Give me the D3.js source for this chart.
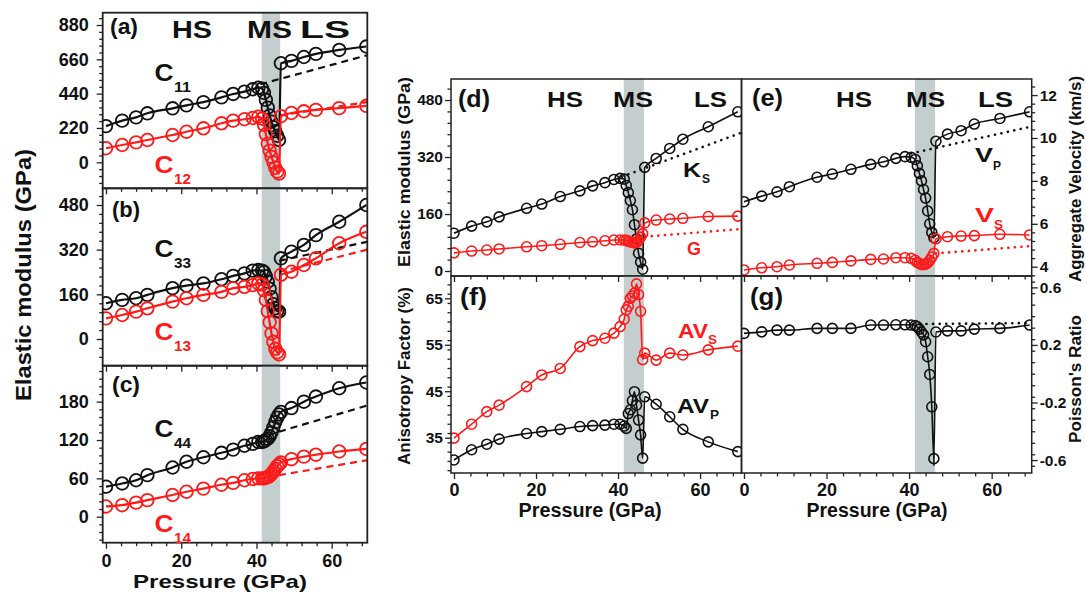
<!DOCTYPE html>
<html><head><meta charset="utf-8">
<script src="https://cdn.jsdelivr.net/npm/d3@7"></script>
<style>
body{margin:0;background:#fff}
svg{display:block}
text{font-family:"Liberation Sans",Arial,Helvetica,sans-serif;font-weight:bold}
</style>
</head><body>
<svg id="chart" width="1086" height="594"></svg>
<script>
// ---------------- DATA ----------------
// Pressure grid (GPa): HS (12) + MS transition (11) + LS (5)
const pressure = [0, 4.3, 8, 11, 17.7, 21.4, 25.9, 30.7, 33.8, 36.8, 39, 40.5,
  41.5, 42, 42.5, 43, 43.5, 44, 44.5, 45, 45.5, 46, 46.5,
  49.3, 52.6, 55.8, 62, 69.2];

// (a)
const c11 = [232, 267, 288, 314, 346, 365, 386, 416, 438, 453, 468, 478,
  472, 445, 400, 350, 300, 260, 225, 200, 170, 143, 635,
  650, 675, 695, 720, 742];
const c12 = [90, 111, 128, 143, 175, 196, 218, 250, 267, 276, 284, 292,
  280, 240, 180, 120, 75, 35, 0, -35, -60, -72, 295,
  316, 327, 336, 347, 362];
// (b)
const c33 = [128, 140, 146, 158, 182, 191, 199, 214, 226, 235, 245, 247,
  245, 240, 225, 205, 180, 150, 125, 110, 100, 98, 289,
  313, 337, 372, 420, 480];
const c13 = [74, 86, 98, 110, 134, 146, 158, 169, 182, 187, 193, 199,
  195, 175, 140, 100, 60, 20, -10, -35, -48, -55, 230,
  241, 265, 289, 343, 384];
// (c)
const c44 = [47, 52, 57, 65, 77, 86, 93, 100, 105, 111, 114, 117,
  117, 118, 120, 122, 126, 132, 140, 148, 155, 160, 164,
  170, 180, 188, 201, 210];
const c14 = [16, 18, 22, 26, 34, 39, 44, 50, 53, 57, 59, 60,
  60, 60, 61, 62, 64, 67, 71, 75, 79, 82, 85,
  90, 94, 97, 102, 106];
// (d)
const bulkKs = [106, 126, 138, 152, 176, 188, 209, 225, 239, 248, 257, 260,
  258, 240, 220, 198, 172, 130, 90, 50, 25, 5, 291,
  316, 344, 370, 405, 447];
const shearG = [51, 56, 59, 62, 68, 71, 75, 80, 82, 85, 87, 87,
  87, 86, 84, 82, 80, 79, 80, 85, 95, 105, 135,
  143, 146, 148, 153, 154];
// (e)
const velP = [7.03, 7.29, 7.49, 7.73, 8.17, 8.32, 8.54, 8.77, 8.89, 9.05, 9.13, 9.1,
  9.0, 8.7, 8.35, 8.0, 7.6, 7.2, 6.6, 6.0, 5.6, 5.35, 9.85,
  10.18, 10.34, 10.65, 10.91, 11.22];
const velS = [3.85, 3.95, 4.0, 4.08, 4.16, 4.2, 4.27, 4.34, 4.36, 4.42, 4.42, 4.39,
  4.3, 4.2, 4.15, 4.1, 4.1, 4.12, 4.18, 4.3, 4.45, 4.62, 5.3,
  5.4, 5.43, 5.45, 5.51, 5.48];
// (f)
const anisoS = [34.9, 37.9, 40.6, 42.0, 46.0, 48.5, 49.9, 54.6, 55.9, 56.4, 57.5, 58.9,
  60.5, 62.5, 63.3, 65, 65.5, 66.1, 68.1, 65.8, 62.2, 51.8, 53.2,
  51.7, 53.2, 52.8, 53.9, 54.7];
const anisoP = [30.2, 32.4, 33.6, 34.7, 35.9, 36.3, 36.8, 37.4, 37.6, 37.7, 37.9, 37.9,
  37.5, 37.0, 40.2, 41, 43, 44.9, 42, 38.8, 35.6, 30.6, 43.8,
  42.2, 39.5, 36.8, 34.1, 32.0];
// (g)
const poisson = [0.28, 0.291, 0.303, 0.303, 0.315, 0.315, 0.315, 0.338, 0.338, 0.34, 0.34, 0.338,
  0.335, 0.326, 0.31, 0.29, 0.27, 0.222, 0.118, -0.005, -0.23, -0.59, 0.29,
  0.298, 0.298, 0.31, 0.315, 0.338];
const poissonErrBar = [46, -0.59, 0.05];

// HS-trend extrapolations [pressure, value]
const c11Trend = [[41, 500], [70, 690]];
const c12Trend = [[46, 300], [70, 388]];
const c33Trend = [[46, 280], [70, 350]];
const c13Trend = [[46, 240], [70, 322]];
const c44Trend = [[46, 133], [70, 175]];
const c14Trend = [[46, 65], [70, 89]];
const ksTrend = [[41, 265], [70, 388]];
const gTrend = [[45, 95], [70, 118]];
const vpTrend = [[40.5, 9.28], [70, 10.55]];
const vsTrend = [[46.5, 4.62], [70, 4.97]];
const poissonTrend = [[41, 0.345], [70, 0.352]];

// Spin-crossover (MS) band
const msBand = [41.4, 46.3];

// Ticks
const pressureTicks = [0, 20, 40, 60];
const aTicks = [0, 220, 440, 660, 880];
const bTicks = [0, 160, 320, 480];
const cTicks = [0, 60, 120, 180];
const dTicks = [0, 160, 320, 480];
const eTicks = [4, 6, 8, 10, 12];
const fTicks = [35, 45, 55, 65];
const gTicks = [-0.6, -0.2, 0.2, 0.6];

// ---------------- DRAWING ----------------
const svg = d3.select('#chart');
const RED = '#ff1a1a', BLACK = '#111';

function minorTicks(scale, step) {
  const [a, b] = scale.domain();
  const out = [];
  for (let v = Math.ceil(a / step) * step; v <= b + 1e-9; v += step) out.push(+v.toFixed(4));
  return out;
}

function panel(cfg) {
  const x = d3.scaleLinear().domain(cfg.xd).range([cfg.x0, cfg.x1]);
  const y = d3.scaleLinear().domain(cfg.yd).range([cfg.y1, cfg.y0]);
  const cid = 'clip-' + cfg.name;
  svg.append('clipPath').attr('id', cid).append('rect')
    .attr('x', cfg.x0).attr('y', cfg.y0).attr('width', cfg.x1 - cfg.x0).attr('height', cfg.y1 - cfg.y0);
  const g = svg.append('g').attr('clip-path', `url(#${cid})`);
  g.append('rect').attr('x', x(msBand[0])).attr('y', cfg.y0)
    .attr('width', x(msBand[1]) - x(msBand[0])).attr('height', cfg.y1 - cfg.y0)
    .attr('fill', '#c5cece');
  const line = d3.line().x(d => x(d[0])).y(d => y(d[1]));
  cfg.series.forEach(s => {
    if (s.trend) {
      g.append('path').datum(s.trend).attr('d', line).attr('fill', 'none')
        .attr('stroke', s.color).attr('stroke-width', cfg.dashed ? 2.2 : 2.6)
        .attr('stroke-linecap', cfg.dashed ? 'butt' : 'round')
        .attr('stroke-dasharray', cfg.dashed ? '7,5' : '0.1,6.5');
    }
  });
  cfg.series.forEach(s => {
    const pts = pressure.map((p, i) => [p, s.values[i]]);
    g.append('path').datum(pts).attr('d', line.curve(d3.curveMonotoneX)).attr('fill', 'none')
      .attr('stroke', s.color).attr('stroke-width', cfg.lw);
    line.curve(d3.curveLinear);
    g.selectAll(null).data(pts).enter().append('circle')
      .attr('cx', d => x(d[0])).attr('cy', d => y(d[1])).attr('r', cfg.r)
      .attr('fill', 'none').attr('stroke', s.color).attr('stroke-width', cfg.cw);
  });
  if (cfg.extra) cfg.extra(g, x, y);
  // frame
  svg.append('rect').attr('x', cfg.x0).attr('y', cfg.y0).attr('width', cfg.x1 - cfg.x0)
    .attr('height', cfg.y1 - cfg.y0).attr('fill', 'none').attr('stroke', '#222').attr('stroke-width', cfg.fw);
  // axes
  const styleAxis = (sel, fs) => {
    sel.select('.domain').remove();
    sel.selectAll('line').attr('stroke', '#222').attr('stroke-width', 1.3);
    sel.selectAll('text').attr('font-size', fs).attr('fill', '#111')
      .style('font-family', '"Liberation Sans",Arial,sans-serif').style('font-weight', 'bold');
  };
  const yAxisFn = cfg.yRight ? d3.axisRight : d3.axisLeft;
  const yPos = cfg.yRight ? cfg.x1 : cfg.x0;
  svg.append('g').attr('transform', `translate(${yPos},0)`)
    .call(yAxisFn(y).tickValues(minorTicks(y, cfg.yMinor).filter(v => !cfg.yTicks.includes(v))).tickSize(3.5).tickFormat(''))
    .call(s => styleAxis(s, cfg.yfs));
  svg.append('g').attr('transform', `translate(${yPos},0)`)
    .call(yAxisFn(y).tickValues(cfg.yTicks).tickSize(6).tickPadding(cfg.yPad).tickFormat(cfg.yFmt || (d => String(d))))
    .call(s => styleAxis(s, cfg.yfs));
  svg.append('g').attr('transform', `translate(0,${cfg.y1})`)
    .call(d3.axisBottom(x).tickValues(minorTicks(x, 4).filter(v => !pressureTicks.includes(v))).tickSize(3.5).tickFormat(''))
    .call(s => styleAxis(s, cfg.xfs));
  svg.append('g').attr('transform', `translate(0,${cfg.y1})`)
    .call(d3.axisBottom(x).tickValues(pressureTicks).tickSize(6).tickPadding(cfg.xPad)
      .tickFormat(cfg.xLabels ? (d => String(d)) : ''))
    .call(s => styleAxis(s, cfg.xfs));
  return {x, y};
}

const L = {x0: 102.7, x1: 367.3, xd: [-0.877, 69.46], lw: 2.2, cw: 1.8, r: 6.3, fw: 1.8, dashed: true,
  yfs: 18, xfs: 18, yPad: 8, xPad: 6};
const R1 = {x0: 451, x1: 741.5, xd: [-0.73, 70.1], lw: 1.6, cw: 1.6, r: 5, fw: 1.5, dashed: false,
  yfs: 15.5, xfs: 18, yPad: 2, xPad: 4};
const R2 = {x0: 741.5, x1: 1031.7, xd: [-0.6, 69.7], lw: 1.6, cw: 1.6, r: 5, fw: 1.5, dashed: false,
  yfs: 15.5, xfs: 18, yPad: 2, xPad: 4, yRight: true};

panel({...L, name: 'a', y0: 12.7, y1: 188.3, yd: [-166.6, 958.8], yTicks: aTicks, yMinor: 44,
  series: [{values: c11, color: BLACK, trend: c11Trend}, {values: c12, color: RED, trend: c12Trend}]});
panel({...L, name: 'b', y0: 188.3, y1: 365.7, yd: [-95.6, 539.8], yTicks: bTicks, yMinor: 32,
  series: [{values: c33, color: BLACK, trend: c33Trend}, {values: c13, color: RED, trend: c13Trend}]});
panel({...L, name: 'c', y0: 365.7, y1: 542.7, yd: [-40.7, 236.3], yTicks: cTicks, yMinor: 12, xLabels: true,
  series: [{values: c44, color: BLACK, trend: c44Trend}, {values: c14, color: RED, trend: c14Trend}]});
panel({...R1, name: 'd', y0: 79, y1: 276, yd: [-14, 539], yTicks: dTicks, yMinor: 32,
  series: [{values: bulkKs, color: BLACK, trend: ksTrend}, {values: shearG, color: RED, trend: gTrend}]});
panel({...R1, name: 'f', y0: 276, y1: 473, yd: [27.4, 69.8], yTicks: fTicks, yMinor: 2, xLabels: true,
  series: [{values: anisoS, color: RED}, {values: anisoP, color: BLACK}]});
panel({...R2, name: 'e', y0: 79, y1: 276, yd: [3.567, 12.75], yTicks: eTicks, yMinor: 0.4,
  series: [{values: velP, color: BLACK, trend: vpTrend}, {values: velS, color: RED, trend: vsTrend}]});
panel({...R2, name: 'g', y0: 276, y1: 473, yd: [-0.69, 0.679], yTicks: gTicks, yMinor: 0.08, xLabels: true,
  yFmt: d => d.toFixed(1),
  series: [{values: poisson, color: BLACK, trend: poissonTrend}],
  extra: (g, x, y) => {
    g.append('line').attr('x1', x(poissonErrBar[0])).attr('x2', x(poissonErrBar[0]))
      .attr('y1', y(poissonErrBar[1] - poissonErrBar[2])).attr('y2', y(poissonErrBar[1] + poissonErrBar[2]))
      .attr('stroke', BLACK).attr('stroke-width', 1.5);
  }});

// ---------------- TEXT ----------------
function txt(x, y, s, size, o = {}) {
  const t = svg.append('text').attr('x', x).attr('y', y).attr('font-size', size)
    .attr('fill', o.fill || '#111').text(s);
  if (o.len) t.attr('textLength', o.len).attr('lengthAdjust', 'spacingAndGlyphs');
  if (o.anchor) t.attr('text-anchor', o.anchor);
  if (o.rot) t.attr('text-anchor', 'middle').attr('dy', '0.36em').attr('transform', `rotate(-90,${x},${y})`);
  return t;
}
// left column
txt(110, 34, '(a)', 22, {len: 28});
txt(112, 217, '(b)', 22, {len: 28});
txt(112, 392, '(c)', 22, {len: 28});
txt(172, 38, 'HS', 23, {len: 40});
txt(247, 38, 'MS', 23, {len: 45});
txt(300, 38, 'LS', 23, {len: 50});
const cLab = [['11', 81, BLACK], ['12', 173, RED], ['33', 257, BLACK], ['13', 340, RED], ['44', 437, BLACK], ['14', 532, RED]];
cLab.forEach(([sub, base, col]) => {
  txt(154.5, base, 'C', 24, {fill: col, len: 19});
  txt(174, base + 11, sub, 15, {fill: col, len: 17});
});
txt(220, 588, 'Pressure (GPa)', 19, {anchor: 'middle', len: 174});
txt(23, 275, 'Elastic modulus (GPa)', 22, {rot: true, len: 252});

// right column
txt(458, 107, '(d)', 24, {len: 32});
txt(547, 107, 'HS', 22, {len: 36});
txt(613, 107, 'MS', 22, {len: 40});
txt(694, 107, 'LS', 22, {len: 33});
txt(752, 106, '(e)', 24, {len: 31});
txt(836, 107, 'HS', 22, {len: 36});
txt(906, 107, 'MS', 22, {len: 39});
txt(978, 107, 'LS', 22, {len: 35});
txt(683, 177, 'K', 20, {len: 18});
txt(702, 183, 'S', 12, {len: 8});
txt(687, 255, 'G', 18, {fill: RED, len: 14});
txt(975, 162, 'V', 20, {len: 18});
txt(993, 170, 'P', 12, {len: 8});
txt(975, 222, 'V', 21, {fill: RED, len: 19});
txt(994, 229, 'S', 13, {fill: RED, len: 9});
txt(460, 305, '(f)', 24, {len: 27});
txt(750, 305, '(g)', 24, {len: 33});
txt(678, 338, 'AV', 20, {fill: RED, len: 30});
txt(708, 344, 'S', 13, {fill: RED, len: 9});
txt(677, 413, 'AV', 20, {len: 32});
txt(710, 419, 'P', 13, {len: 9});
txt(404, 172, 'Elastic modulus (GPa)', 17, {rot: true, len: 190});
txt(404, 376, 'Anisotropy Factor (%)', 17, {rot: true, len: 178});
txt(1075, 179, 'Aggregate Velocity (km/s)', 16, {rot: true, len: 206});
txt(1075, 379, "Poisson's Ratio", 16, {rot: true, len: 128});
txt(590, 517, 'Pressure (GPa)', 20, {anchor: 'middle', len: 143});
txt(877, 517, 'Pressure (GPa)', 20, {anchor: 'middle', len: 141});
</script>
</body></html>
